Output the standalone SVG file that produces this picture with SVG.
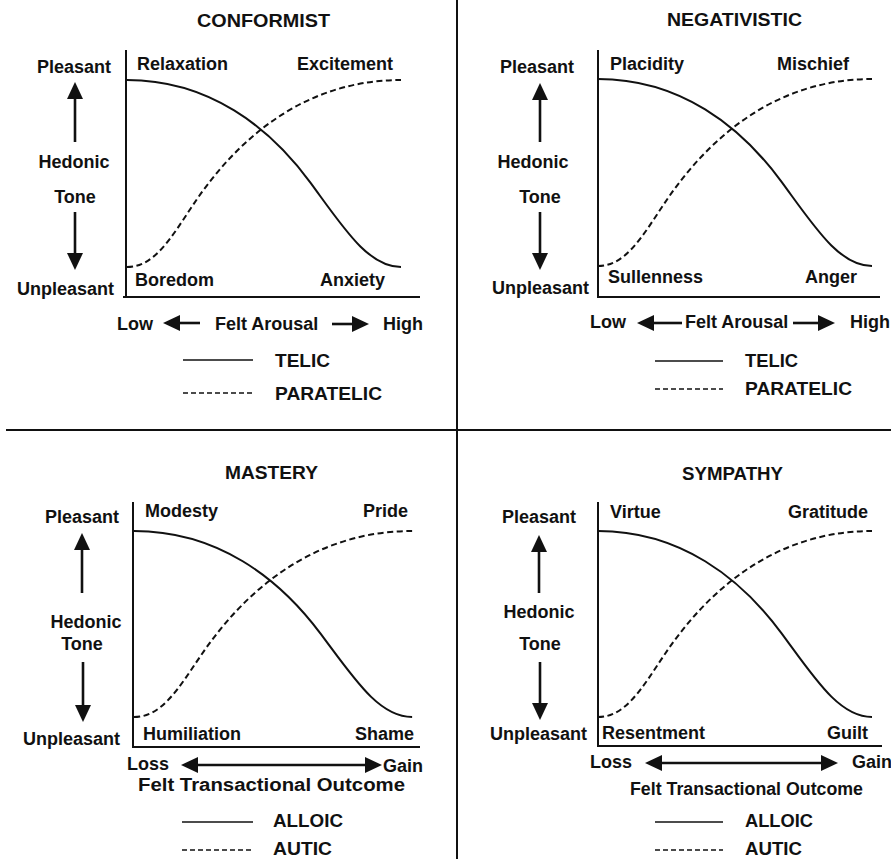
<svg xmlns="http://www.w3.org/2000/svg" width="891" height="859" viewBox="0 0 891 859">
<style>
.t{font-family:"Liberation Sans",Arial,Helvetica,sans-serif;font-weight:bold;font-size:18px;fill:#111}
.m{text-anchor:middle}
.axis{stroke:#111;stroke-width:2;fill:none}
.div{stroke:#111;stroke-width:2;fill:none}
.telic{stroke:#111;stroke-width:2;fill:none}
.paratelic{stroke:#111;stroke-width:2;fill:none;stroke-dasharray:6 3.5}
.legs{stroke:#111;stroke-width:1.6;fill:none}
.legd{stroke:#111;stroke-width:1.6;fill:none;stroke-dasharray:5 3}
.arr{stroke:#111;stroke-width:2.6;fill:none;marker-end:url(#ah)}
.arr2{stroke:#111;stroke-width:2.6;fill:none;marker-end:url(#ah);marker-start:url(#ah)}
</style>
<defs>
<marker id="ah" markerUnits="userSpaceOnUse" markerWidth="17" markerHeight="16" refX="0" refY="8" orient="auto-start-reverse" viewBox="0 0 17 16">
<path d="M0,0 L17,8 L0,16 Z" fill="#111"/>
</marker>
<path id="telicCurve" class="telic" d="M0,0 C82,0 142.5,46.8 183.6,102.9 C216.5,147.7 241,187 274,187"/>
<path id="paratelicCurve" class="paratelic" d="M0,187 C27.4,187 43.8,158.2 65.8,125.3 C98.6,75.9 164.4,0 274,0"/>
</defs>
<rect width="891" height="859" fill="#fff"/>

<g id="dividers">
<line class="div" x1="457" y1="0" x2="457" y2="859"/>
<line class="div" x1="6" y1="430" x2="891" y2="430"/>
</g>

<g id="conformist">
<text class="t" x="197" y="27" textLength="133" lengthAdjust="spacingAndGlyphs">CONFORMIST</text>
<path class="axis" d="M126,50 V297 M123,297 H420"/>
<use href="#telicCurve" transform="translate(127,80)"/>
<use href="#paratelicCurve" transform="translate(127,80)"/>
<text class="t" x="37" y="73">Pleasant</text>
<text class="t m" x="74" y="168">Hedonic</text>
<text class="t m" x="75" y="203">Tone</text>
<text class="t" x="17" y="295">Unpleasant</text>
<text class="t" x="137" y="70">Relaxation</text>
<text class="t" x="297" y="70">Excitement</text>
<text class="t" x="135" y="286">Boredom</text>
<text class="t" x="320" y="286">Anxiety</text>
<text class="t" x="117" y="330">Low</text>
<text class="t" x="215" y="330">Felt Arousal</text>
<text class="t" x="383" y="330">High</text>
<line class="legs" x1="183" y1="360" x2="253" y2="360"/>
<text class="t" x="275" y="367" textLength="55" lengthAdjust="spacingAndGlyphs">TELIC</text>
<line class="legd" x1="183" y1="393" x2="253" y2="393"/>
<text class="t" x="275" y="400" textLength="107" lengthAdjust="spacingAndGlyphs">PARATELIC</text>
</g>

<g id="negativistic">
<text class="t" x="667" y="26" textLength="135" lengthAdjust="spacingAndGlyphs">NEGATIVISTIC</text>
<path class="axis" d="M598,50 V297 M597,297 H880"/>
<use href="#telicCurve" transform="translate(598,79)"/>
<use href="#paratelicCurve" transform="translate(598,79)"/>
<text class="t" x="500" y="73">Pleasant</text>
<text class="t m" x="533" y="168">Hedonic</text>
<text class="t m" x="540" y="203">Tone</text>
<text class="t" x="492" y="294">Unpleasant</text>
<text class="t" x="610" y="70">Placidity</text>
<text class="t" x="777" y="70">Mischief</text>
<text class="t" x="608" y="283">Sullenness</text>
<text class="t" x="805" y="283">Anger</text>
<text class="t" x="590" y="328">Low</text>
<text class="t" x="685" y="328">Felt Arousal</text>
<text class="t" x="850" y="328">High</text>
<line class="legs" x1="655" y1="361" x2="723" y2="361"/>
<text class="t" x="745" y="367" textLength="53" lengthAdjust="spacingAndGlyphs">TELIC</text>
<line class="legd" x1="655" y1="389" x2="723" y2="389"/>
<text class="t" x="745" y="395" textLength="107" lengthAdjust="spacingAndGlyphs">PARATELIC</text>
</g>

<g id="mastery">
<text class="t" x="225" y="479" textLength="93" lengthAdjust="spacingAndGlyphs">MASTERY</text>
<path class="axis" d="M133,502 V747 M132,747 H420"/>
<use href="#telicCurve" transform="translate(134,531) scale(1.015,0.995)"/>
<use href="#paratelicCurve" transform="translate(134,531) scale(1.015,0.995)"/>
<text class="t" x="45" y="523">Pleasant</text>
<text class="t m" x="86" y="628">Hedonic</text>
<text class="t m" x="82" y="650">Tone</text>
<text class="t" x="23" y="745">Unpleasant</text>
<text class="t" x="145" y="517">Modesty</text>
<text class="t" x="363" y="517">Pride</text>
<text class="t" x="143" y="740">Humiliation</text>
<text class="t" x="355" y="740">Shame</text>
<text class="t" x="127" y="770">Loss</text>
<text class="t" x="383" y="772">Gain</text>
<text class="t" x="138" y="791" textLength="267" lengthAdjust="spacingAndGlyphs">Felt Transactional Outcome</text>
<line class="legs" x1="182" y1="822" x2="253" y2="822"/>
<text class="t" x="273" y="827" textLength="70" lengthAdjust="spacingAndGlyphs">ALLOIC</text>
<line class="legd" x1="182" y1="850" x2="253" y2="850"/>
<text class="t" x="273" y="855" textLength="59" lengthAdjust="spacingAndGlyphs">AUTIC</text>
</g>

<g id="sympathy">
<text class="t" x="682" y="480" textLength="101" lengthAdjust="spacingAndGlyphs">SYMPATHY</text>
<path class="axis" d="M598,502 V746 M597,746 H882"/>
<use href="#telicCurve" transform="translate(598,531) scale(1,0.995)"/>
<use href="#paratelicCurve" transform="translate(598,531) scale(1,0.995)"/>
<text class="t" x="502" y="523">Pleasant</text>
<text class="t m" x="539" y="618">Hedonic</text>
<text class="t m" x="540" y="650">Tone</text>
<text class="t" x="490" y="740">Unpleasant</text>
<text class="t" x="610" y="518">Virtue</text>
<text class="t" x="788" y="518">Gratitude</text>
<text class="t" x="602" y="739">Resentment</text>
<text class="t" x="827" y="739">Guilt</text>
<text class="t" x="590" y="768">Loss</text>
<text class="t" x="852" y="768">Gain</text>
<text class="t" x="630" y="795" textLength="233" lengthAdjust="spacingAndGlyphs">Felt Transactional Outcome</text>
<line class="legs" x1="655" y1="822" x2="723" y2="822"/>
<text class="t" x="745" y="827" textLength="68" lengthAdjust="spacingAndGlyphs">ALLOIC</text>
<line class="legd" x1="655" y1="850" x2="723" y2="850"/>
<text class="t" x="745" y="855" textLength="57" lengthAdjust="spacingAndGlyphs">AUTIC</text>
</g>

<g id="connectors">
<line class="arr" x1="75" y1="142" x2="75" y2="99"/>
<line class="arr" x1="75" y1="212" x2="75" y2="253"/>
<line class="arr" x1="200" y1="323" x2="180" y2="323"/>
<line class="arr" x1="332" y1="324" x2="352" y2="324"/>
<line class="arr" x1="540" y1="142" x2="540" y2="100"/>
<line class="arr" x1="540" y1="212" x2="540" y2="253"/>
<line class="arr" x1="682" y1="323" x2="654" y2="323"/>
<line class="arr" x1="793" y1="323" x2="818" y2="323"/>
<line class="arr" x1="82" y1="593" x2="82" y2="550"/>
<line class="arr" x1="83" y1="662" x2="83" y2="705"/>
<line class="arr2" x1="198" y1="765" x2="365" y2="765"/>
<line class="arr" x1="539" y1="593" x2="539" y2="552"/>
<line class="arr" x1="540" y1="662" x2="540" y2="703"/>
<line class="arr2" x1="662" y1="763" x2="821" y2="763"/>
</g>
</svg>
